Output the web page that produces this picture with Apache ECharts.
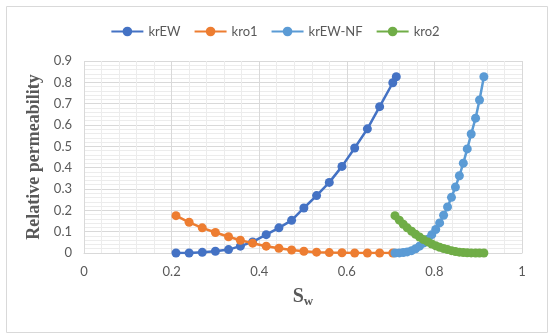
<!DOCTYPE html>
<html>
<head>
<meta charset="utf-8">
<script src="https://cdn.jsdelivr.net/npm/echarts@6/dist/echarts.min.js"></script>
<style>html,body{margin:0;padding:0;background:#fff}#c{width:550px;height:335px}</style>
</head>
<body>
<div id="c"></div>
<script>
// Series names
const seriesNames = ['krEW', 'kro1', 'krEW-NF', 'kro2'];
// Water saturation for krEW / kro1
const swA = [0.21,0.24,0.27,0.30,0.33,0.357,0.385,0.416,0.445,0.474,0.502,0.531,0.56,0.589,0.618,0.647,0.675,0.705,0.713];
const krEW = [0,0,0.003,0.008,0.016,0.032,0.052,0.086,0.118,0.153,0.211,0.269,0.331,0.406,0.492,0.582,0.686,0.798,0.826];
const kro1 = [0.175,0.144,0.118,0.096,0.076,0.06,0.046,0.032,0.022,0.014,0.008,0.004,0.002,0.001,0,0,0,0];
// Water saturation for krEW-NF / kro2
const swB = [0.710,0.720,0.729,0.738,0.748,0.757,0.766,0.775,0.785,0.794,0.803,0.812,0.821,0.830,0.839,0.848,0.857,0.866,0.875,0.884,0.894,0.903,0.913];
const krEWNF = [0,0.0005,0.002,0.005,0.011,0.02,0.032,0.047,0.065,0.086,0.11,0.141,0.177,0.216,0.261,0.309,0.362,0.421,0.488,0.558,0.632,0.717,0.826];
const kro2 = [0.175,0.154,0.135,0.118,0.102,0.088,0.075,0.063,0.052,0.042,0.034,0.027,0.021,0.016,0.011,0.007,0.004,0.002,0.001,0.0005,0,0,0];
// Axis ticks
const xTicks = {min: 0, max: 1, interval: 0.2};
const yTicks = {min: 0, max: 0.9, interval: 0.1};

const colors = ['#4472C4', '#ED7D31', '#5B9BD5', '#70AD47'];
const pair = (xs, ys) => ys.map((y, i) => [xs[i], y]);
const datasets = [pair(swA, krEW), pair(swA, kro1), pair(swB, krEWNF), pair(swB, kro2)];

const chart = echarts.init(document.getElementById('c'), null, {renderer: 'canvas'});
const font = 'Lato, "Noto Sans", sans-serif';
chart.setOption({
  animation: false,
  color: colors,
  graphic: [{
    type: 'rect', left: 4, top: 4,
    shape: {width: 541, height: 326},
    style: {fill: 'none', stroke: '#d9d9d9', lineWidth: 1}, silent: true
  }],
  legend: {
    top: 20, left: 'center',
    itemWidth: 32, itemHeight: 12, itemGap: 13,
    textStyle: {fontFamily: font, fontSize: 13, color: '#595959'},
    data: seriesNames
  },
  grid: {left: 84, right: 28, top: 61, bottom: 82},
  xAxis: {
    type: 'value', min: xTicks.min, max: xTicks.max, interval: xTicks.interval,
    axisLine: {show: true, lineStyle: {color: '#d9d9d9'}},
    axisTick: {show: false},
    axisLabel: {fontFamily: font, fontSize: 13, color: '#595959', margin: 12},
    splitLine: {show: true, lineStyle: {color: '#d9d9d9', width: 1}},
    minorTick: {show: false, splitNumber: 5},
    minorSplitLine: {show: true, lineStyle: {color: '#ececec', width: 1}},
    name: '{s|S}{w|w}',
    nameLocation: 'middle', nameGap: 32,
    nameTextStyle: {
      rich: {
        s: {fontFamily: '"Liberation Serif", serif', fontWeight: 'bold', fontSize: 20, color: '#595959'},
        w: {fontFamily: '"Liberation Serif", serif', fontWeight: 'bold', fontSize: 13, color: '#595959', verticalAlign: 'bottom', padding: [10, 0, 0, 0]}
      }
    }
  },
  yAxis: {
    type: 'value', min: yTicks.min, max: yTicks.max, interval: yTicks.interval,
    axisLine: {show: false},
    axisTick: {show: false},
    axisLabel: {fontFamily: font, fontSize: 13, color: '#595959', margin: 12},
    splitLine: {show: true, lineStyle: {color: '#d9d9d9', width: 1}},
    minorTick: {show: false, splitNumber: 5},
    minorSplitLine: {show: true, lineStyle: {color: '#ececec', width: 1}},
    name: 'Relative permeability',
    nameLocation: 'middle', nameGap: 38, nameRotate: 90,
    nameTextStyle: {fontFamily: '"Liberation Serif", serif', fontWeight: 'bold', fontSize: 18, color: '#595959'}
  },
  series: seriesNames.map((n, i) => ({
    name: n, type: 'line', data: datasets[i],
    symbol: 'circle', symbolSize: 9, showSymbol: true,
    lineStyle: {width: 2.5, color: colors[i]},
    itemStyle: {color: colors[i]},
    z: 2 + i
  }))
});
</script>
</body>
</html>
